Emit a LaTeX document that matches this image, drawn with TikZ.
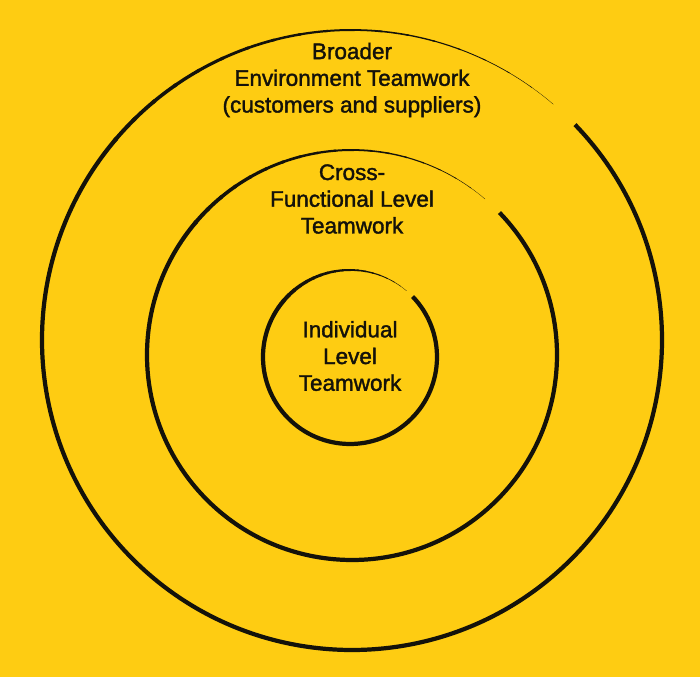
\documentclass[tikz,border=0pt]{standalone}
\usepackage{fontspec}
\setmainfont{Liberation Sans}[FakeBold=1.6, AutoFakeBold=1.6]
\usetikzlibrary{positioning}
\definecolor{bgyellow}{RGB}{254,204,18}
\definecolor{ink}{RGB}{20,18,10}

\begin{document}
\begin{tikzpicture}[x=0.025cm, y=0.025cm, every node/.style={align=center, text=ink, font=\fontsize{16}{19}\selectfont\bfseries}]

				\fill[bgyellow] (0,0) rectangle (700,677);
				\useasboundingbox (0,0) rectangle (700,677);
				
				% rings, each one stroke that thins out near its start
				\foreach \n/\cx/\cy/\r in {R1/352/337/310, R2/352/322/205, R3/350/320/87} {
					\coordinate (\n) at (\cx,\cy);
					\draw[ink, line width=3pt] ([shift={(44:\r)}]\n) arc[start angle=44, end angle=-215, radius=\r];
					\foreach \i in {0,...,18} {
						\pgfmathsetmacro{\sa}{-215-5*\i}
						\pgfmathsetmacro{\lw}{3*(1-\i/19)}
						\draw[ink, line width=\lw pt, line cap=round] ([shift={(\sa:\r)}]\n) arc[start angle=\sa, end angle=\sa-5.5, radius=\r];
					}
				}
				
				\node (T1) at (352,597) {Broader\\Environment Teamwork\\(customers and suppliers)};
				\node (T2) at (352,478) {Cross-\\Functional Level\\Teamwork};
				\node (T3) at (350,321) {Individual\\Level\\Teamwork};
				
			\end{tikzpicture}
\end{document}
